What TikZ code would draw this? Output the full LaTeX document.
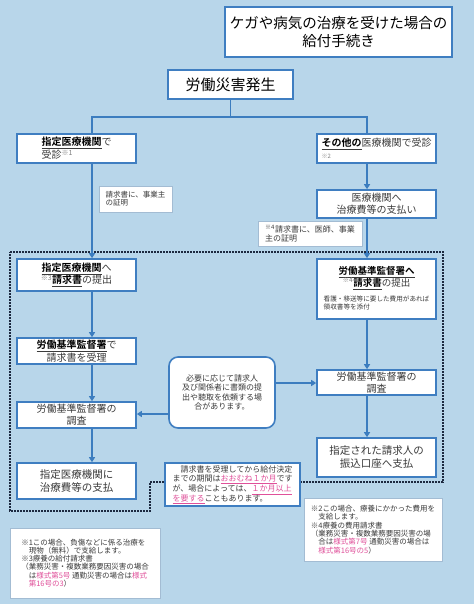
\documentclass[tikz,border=0pt]{standalone}
\usepackage{fontspec}
\setmainfont{Noto Sans CJK JP}[BoldFont={Noto Sans CJK JP Bold}]
\usetikzlibrary{arrows.meta,positioning,calc}
\definecolor{bgblue}{HTML}{B8D6EA}
\definecolor{boxblue}{HTML}{3F7EC1}
\definecolor{lineblue}{HTML}{3C7DBF}
\definecolor{notegray}{HTML}{A3BCD3}
\definecolor{txtgray}{HTML}{3A3A3A}
\definecolor{pinkx}{HTML}{E0509A}
\definecolor{dotnavy}{HTML}{1C2940}
\newcommand\kyo[1]{\underline{\textcolor{black}{\bfseries #1}}}
\newcommand\chu[1]{\textsuperscript{\textcolor{gray}{#1}}}
\newcommand\pk[1]{\textcolor{pinkx}{\underline{#1}}}
\newcommand\pkc[1]{\textcolor{pinkx}{#1}}

\begin{document}
\begin{tikzpicture}[x=1pt,y=-1pt,
  box/.style={draw=boxblue,line width=1.6pt,fill=white,inner sep=0pt,text=txtgray,align=center,minimum width=119,font=\fontsize{10}{12}\selectfont},
  note/.style={draw=notegray,line width=0.8pt,fill=white,inner sep=0pt,text=txtgray,align=left,font=\fontsize{7.5}{8.3}\selectfont},
  conn/.style={draw=lineblue,line width=1.8pt},
  arr/.style={conn,-{Triangle[length=5pt,width=6pt]}},
  dotline/.style={draw=dotnavy,line width=1.6pt,dash pattern=on 1.6pt off 1.4pt}]
\fill[bgblue] (0,0) rectangle (474,604);
\useasboundingbox (0,0) rectangle (474,604);
\draw[dotline] (10,252) -- (443,252) -- (443,482) -- (150,482) -- (150,511) -- (10,511) -- cycle;

\node[box,line width=1.4pt,text=black,minimum width=227,minimum height=50,font=\fontsize{14.5}{18}\selectfont] (title) at (338.5,32) {ケガや病気の治療を受けた場合の\\給付手続き};
\node[box,text=black,minimum width=125,minimum height=29,font=\fontsize{15}{17}\selectfont] (occur) at (230.5,84.5) {労働災害発生};

\node[box,align=left,minimum height=29,font=\fontsize{10}{11.5}\selectfont] (clinicA) at (76.5,148.5) {\kyo{指定医療機関}で\\受診\chu{※1}};
\node[box,align=left,minimum height=29,font=\fontsize{10}{11.5}\selectfont] (clinicB) at (376.5,148.5) {\kyo{その他の}医療機関で受診\\{\fontsize{6}{7}\selectfont\textcolor{gray}{※2}}};
\node[box,minimum height=28] (payC) at (376.5,204) {医療機関へ\\治療費等の支払い};

\node[note,minimum width=73,minimum height=26] (memoA) at (135.5,199) {請求書に、事業主\\の証明};
\node[note,minimum width=104,minimum height=25,font=\fontsize{8}{9}\selectfont] (memoB) at (310,233.5) {\textsuperscript{※4}請求書に、医師、事業\\主の証明};

\node[box,minimum height=32] (claimA) at (76.5,275) {\kyo{指定医療機関}へ\\\chu{※3}\kyo{請求書}の提出};
\node[box,minimum height=60,font=\fontsize{9.5}{12}\selectfont] (claimB) at (376.5,289) {\kyo{労働基準監督署へ}\\\chu{※4}\kyo{請求書}の提出\\[5pt]{\fontsize{6.6}{8}\selectfont\begin{tabular}{@{}l@{}}看護・移送等に要した費用があれば\\領収書等を添付\end{tabular}}};

\node[box,minimum height=26,font=\fontsize{10}{11}\selectfont] (accept) at (76.5,351) {\kyo{労働基準監督署}で\\請求書を受理};
\node[box,minimum height=26] (survA) at (76.5,415) {労働基準監督署の\\調査};
\node[box,minimum height=25] (survB) at (376.5,382.5) {労働基準監督署の\\調査};
\node[box,minimum height=36,font=\fontsize{10.5}{13}\selectfont] (payA) at (76.5,481) {指定医療機関に\\治療費等の支払};
\node[box,minimum height=39,font=\fontsize{10.5}{13}\selectfont] (payB) at (376.5,457.5) {指定された請求人の\\振込口座へ支払};

\node[box,rounded corners=9pt,minimum width=106,minimum height=71,font=\fontsize{8}{9.3}\selectfont] (req) at (222,392.5) {必要に応じて請求人\\及び関係者に書類の提\\出や聴取を依頼する場\\合があります。};
\node[box,line width=1.1pt,align=left,minimum width=135,minimum height=43,font=\fontsize{8}{9.3}\selectfont] (term) at (232.5,484.5) {\hspace{1em}請求書を受理してから給付決定\\までの期間は\pk{おおむね１か月}です\\が、場合によっては、\pk{１か月以上}\\\pk{を要する}こともあります。};

\node[note,minimum width=150,minimum height=70] (footA) at (85,563) {※1この場合、負傷などに係る治療を\\\hspace{1em}現物（無料）で支給します。\\※3療養の給付請求書\\（業務災害・複数業務要因災害の場合\\\hspace{1em}は\pkc{様式第5号} 通勤災害の場合は\pkc{様式}\\\hspace{1em}\pkc{第16号の3}）};
\node[note,minimum width=138,minimum height=63] (footB) at (373,529.5) {※2この場合、療養にかかった費用を\\\hspace{1em}支給します。\\※4療養の費用請求書\\（業務災害・複数業務要因災害の場\\\hspace{1em}合は\pkc{様式第7号} 通勤災害の場合は\\\hspace{1em}\pkc{様式第16号の5}）};

\coordinate (lx) at (92,0);
\coordinate (rx) at (367,0);
\coordinate (split) at (230.5,117);
\coordinate (reqL) at ([yshift=-21.5pt]req.west);
\coordinate (reqR) at ([yshift=9.5pt]req.east);
\draw[conn] (occur.south) -- (split);
\draw[conn] (clinicA.north -| lx) |- (split) -| (clinicB.north -| rx);
\foreach \a/\b/\c in {clinicA/claimA/lx,claimA/accept/lx,accept/survA/lx,survA/payA/lx,clinicB/payC/rx,payC/claimB/rx,claimB/survB/rx,survB/payB/rx}{\draw[arr] (\a.south -| \c) -- (\b.north -| \c);}
\draw[arr] (reqL) -- (survA.east |- reqL);
\draw[arr] (reqR) -- (survB.west |- reqR);
\end{tikzpicture}
\end{document}
